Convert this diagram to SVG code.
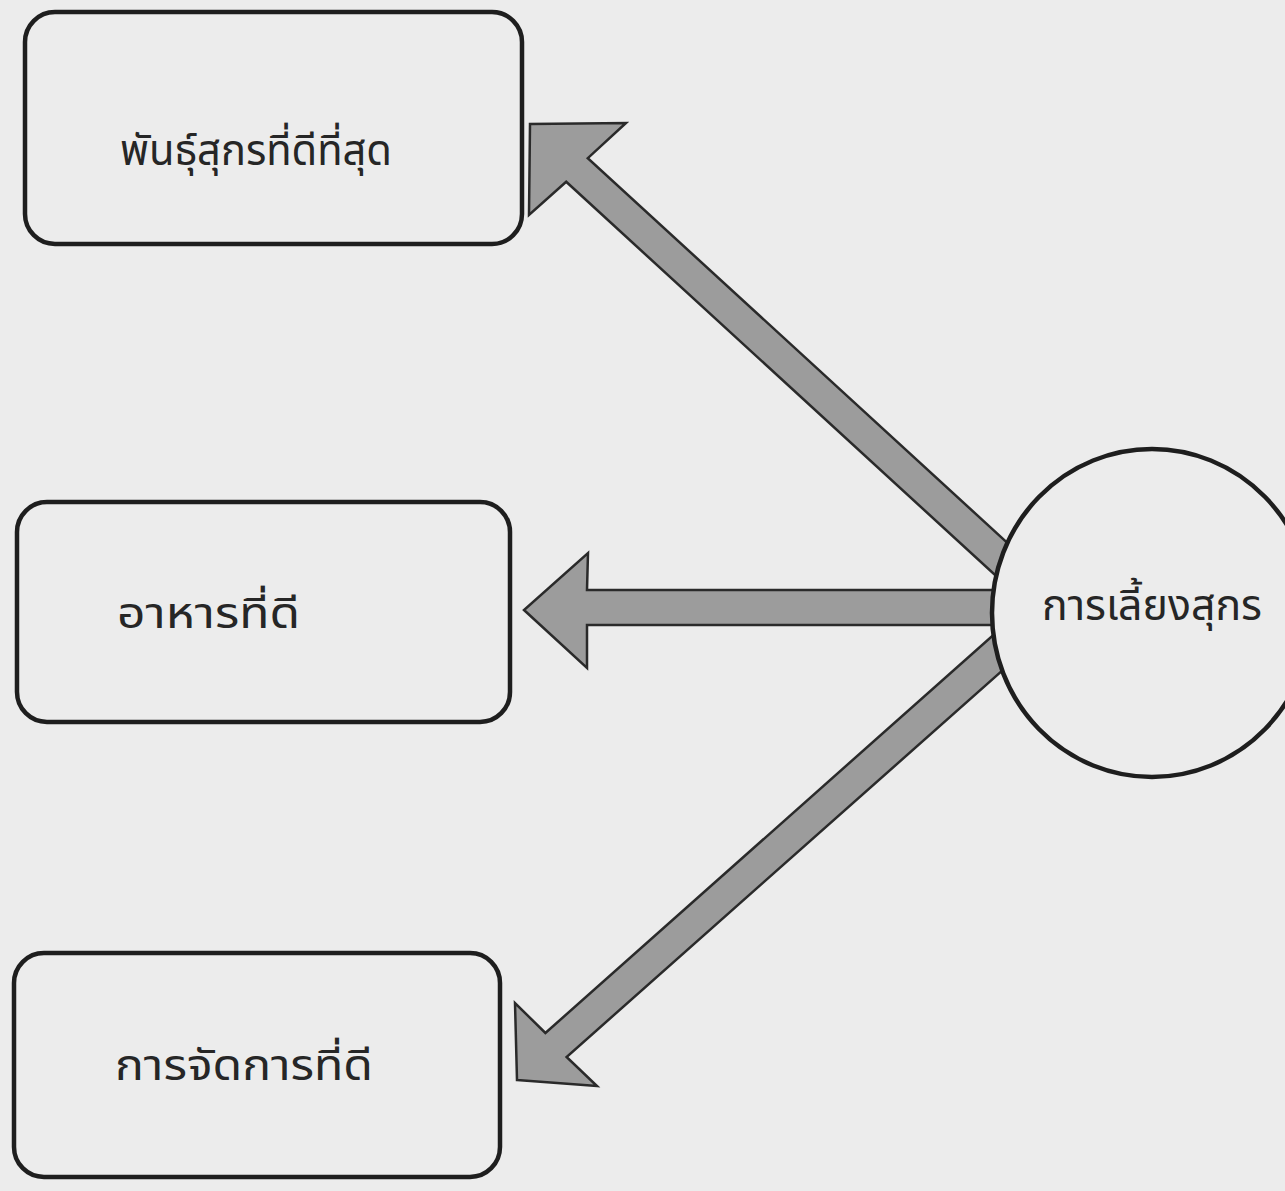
<svg xmlns="http://www.w3.org/2000/svg" width="1285" height="1191" viewBox="0 0 1285 1191">
  <style>
    .box { fill: none; stroke: #1e1e1e; stroke-width: 4.5; }
    .arrow { fill: #9c9c9c; stroke: #2a2a2a; stroke-width: 2.5; stroke-linejoin: miter; }
    .lbl { font-family: "Noto Sans Thai", "Noto Sans", "DejaVu Sans", sans-serif; font-size: 42px; fill: #262626; }
    .hub { fill: #ececec; stroke: #1e1e1e; stroke-width: 4.5; }
  </style>
  <rect x="0" y="0" width="1285" height="1191" fill="#ececec"/>

  <g id="connectors">
    <polygon class="arrow" points="530,124 529,215 566.2,181.8 1023.2,600.8 1044.8,577.2 587.8,158.2 626,123"/>
    <polygon class="arrow" points="524,610 587,668 587,625 1030,625 1030,590 587,590 588,553"/>
    <polygon class="arrow" points="517,1080 597,1086 566.6,1057 1030,646 1008,622 545.4,1033 515,1003"/>
  </g>

  <g id="node-breeds">
    <rect class="box" x="25" y="12" width="497" height="232" rx="30" ry="30"/>
    <text class="lbl" x="120" y="165" textLength="272" lengthAdjust="spacingAndGlyphs">พันธุ์สุกรที่ดีที่สุด</text>
  </g>

  <g id="node-feed">
    <rect class="box" x="17" y="502" width="493" height="220" rx="30" ry="30"/>
    <text class="lbl" x="117" y="628" textLength="183" lengthAdjust="spacingAndGlyphs">อาหารที่ดี</text>
  </g>

  <g id="node-management">
    <rect class="box" x="14" y="953" width="486" height="224" rx="30" ry="30"/>
    <text class="lbl" x="115" y="1080" textLength="258" lengthAdjust="spacingAndGlyphs">การจัดการที่ดี</text>
  </g>

  <g id="node-pig-raising">
    <ellipse class="hub" cx="1152" cy="613" rx="160" ry="164"/>
    <text class="lbl" x="1042" y="620" textLength="220" lengthAdjust="spacingAndGlyphs">การเลี้ยงสุกร</text>
  </g>
</svg>
